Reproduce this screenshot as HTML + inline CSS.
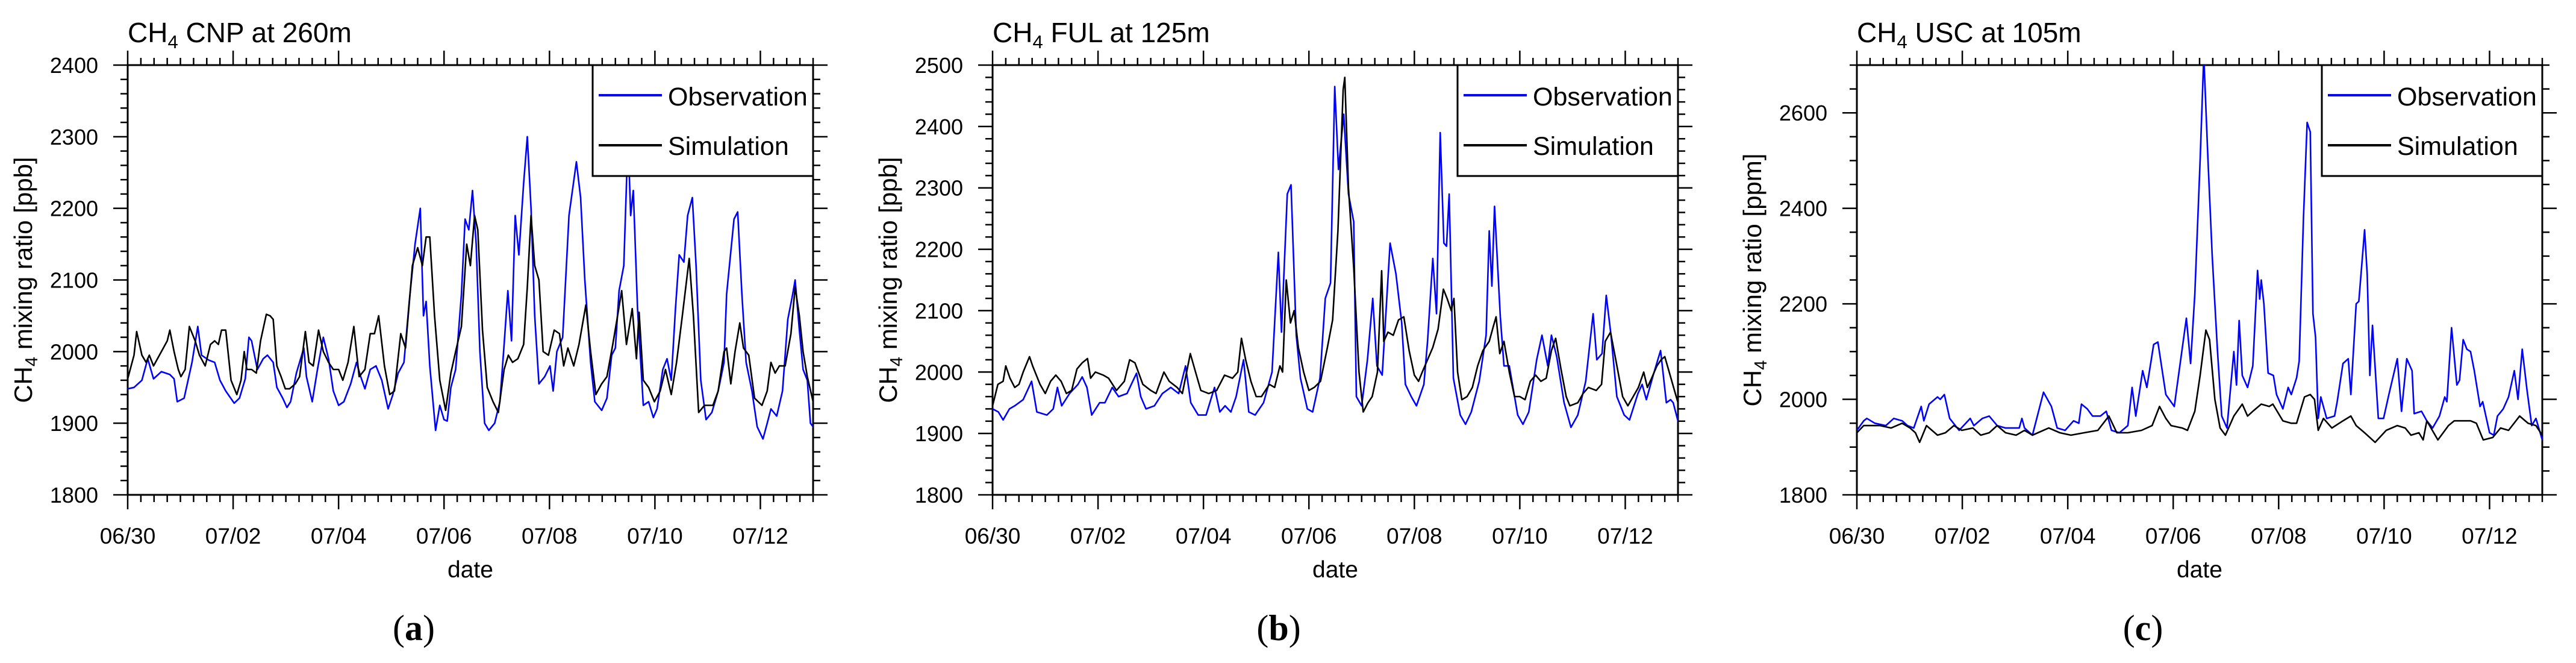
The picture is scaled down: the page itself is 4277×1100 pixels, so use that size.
<!DOCTYPE html>
<html><head><meta charset="utf-8"><style>
html,body{margin:0;padding:0;background:#fff;}
svg{display:block;font-family:"Liberation Sans",Arial,sans-serif;}
</style></head><body>
<svg id="fig" width="4277" height="1100" viewBox="0 0 4277 1100" xmlns="http://www.w3.org/2000/svg"></svg>
<script>
// ---------- DATA ----------
const dateTickLabels = ["06/30","07/02","07/04","07/06","07/08","07/10","07/12"];
const dateTickDays = [0,2,4,6,8,10,12];

const aTitle = ["CNP at 260m"];
const aYTicks = [1800,1900,2000,2100,2200,2300,2400];
const aObsDays = [0,0.12,0.27,0.38,0.49,0.64,0.8,0.88,0.94,1.07,1.22,1.33,1.4,1.54,1.65,1.75,1.86,2.02,2.12,2.23,2.3,2.35,2.46,2.57,2.65,2.76,2.83,2.94,3.02,3.09,3.2,3.34,3.39,3.5,3.6,3.71,3.81,3.9,4.0,4.1,4.23,4.34,4.42,4.5,4.6,4.71,4.82,4.94,5.03,5.13,5.24,5.34,5.45,5.55,5.61,5.66,5.73,5.84,5.92,6.0,6.06,6.13,6.22,6.33,6.4,6.47,6.54,6.61,6.68,6.77,6.85,6.96,7.06,7.14,7.21,7.28,7.35,7.42,7.51,7.58,7.65,7.72,7.8,7.91,8.01,8.07,8.14,8.25,8.37,8.51,8.59,8.67,8.78,8.86,8.99,9.09,9.18,9.25,9.32,9.41,9.49,9.54,9.59,9.67,9.78,9.88,9.97,10.04,10.15,10.23,10.31,10.39,10.46,10.55,10.62,10.71,10.78,10.87,10.97,11.08,11.2,11.31,11.36,11.5,11.57,11.65,11.73,11.84,11.94,12.05,12.13,12.2,12.31,12.42,12.52,12.6,12.66,12.74,12.81,12.89,12.95,13.0];
const aObsVals = [1948,1950,1960,1990,1962,1972,1968,1962,1930,1935,1985,2035,1995,1988,1985,1960,1945,1928,1935,1962,2020,2015,1975,1990,1995,1985,1950,1935,1922,1930,1970,2005,1965,1930,1975,2020,1990,1945,1925,1930,1955,1985,1965,1948,1975,1980,1960,1920,1940,1970,1985,2070,2150,2200,2050,2070,1980,1890,1925,1905,1903,1950,1975,2080,2185,2170,2225,2150,2000,1900,1890,1900,1930,2010,2085,2015,2190,2135,2235,2300,2200,2050,1955,1965,1980,1945,2000,2020,2190,2265,2215,2100,1985,1930,1918,1935,1995,2005,2085,2120,2300,2190,2225,2060,1925,1930,1908,1920,1975,1990,1960,2060,2135,2125,2190,2215,2120,1960,1905,1915,1945,1985,2080,2185,2195,2080,1985,1945,1895,1878,1900,1920,1910,1945,2045,2075,2100,2030,1975,1960,1900,1895];
const aSimDays = [0,0.12,0.17,0.27,0.35,0.41,0.49,0.64,0.75,0.8,0.88,0.96,1.01,1.09,1.17,1.28,1.36,1.47,1.57,1.65,1.72,1.78,1.86,1.96,2.07,2.15,2.21,2.26,2.35,2.44,2.52,2.63,2.7,2.76,2.83,2.91,2.99,3.07,3.18,3.26,3.37,3.44,3.52,3.62,3.71,3.81,3.9,4.0,4.08,4.18,4.29,4.39,4.5,4.6,4.68,4.76,4.87,4.97,5.06,5.18,5.27,5.4,5.5,5.59,5.66,5.73,5.82,5.92,6.03,6.13,6.22,6.33,6.43,6.5,6.58,6.64,6.73,6.82,6.93,7.03,7.14,7.22,7.3,7.4,7.51,7.58,7.65,7.72,7.8,7.88,7.98,8.09,8.19,8.27,8.35,8.46,8.56,8.69,8.78,8.88,8.99,9.09,9.2,9.28,9.37,9.46,9.57,9.65,9.7,9.78,9.88,9.99,10.1,10.2,10.31,10.41,10.52,10.65,10.73,10.83,10.94,11.1,11.2,11.31,11.36,11.44,11.52,11.61,11.68,11.78,11.89,12.03,12.13,12.2,12.28,12.36,12.47,12.58,12.66,12.74,12.81,12.89,13.0];
const aSimVals = [1962,1995,2028,1995,1985,1995,1980,2000,2015,2030,2000,1975,1965,1975,2035,2015,1995,1980,2010,2015,2010,2030,2030,1960,1940,1960,2000,1975,1975,1970,2015,2052,2050,2045,1980,1965,1948,1948,1955,1965,2028,1985,1980,2030,2000,1985,1975,1975,1960,1985,2035,1965,1975,2025,2025,2050,1980,1940,1945,2025,2005,2120,2145,2120,2160,2160,2050,1960,1918,1970,2000,2035,2150,2120,2190,2170,2030,1950,1930,1915,1975,1995,1985,1990,2010,2090,2190,2120,2100,2000,1995,2030,2025,1980,2005,1980,2010,2065,2000,1940,1955,1965,2010,2045,2085,2010,2060,1990,2055,1960,1950,1930,1945,1975,1940,1985,2050,2130,2050,1915,1925,1925,1945,2000,2005,1955,2000,2040,2005,1995,1935,1925,1945,1985,1970,1980,1980,2025,2090,2050,2000,1965,1930];

const bTitle = ["FUL at 125m"];
const bYTicks = [1800,1900,2000,2100,2200,2300,2400,2500];
const bObsDays = [0,0.11,0.2,0.32,0.42,0.58,0.74,0.84,1.03,1.15,1.23,1.31,1.46,1.62,1.7,1.79,1.88,2.03,2.13,2.27,2.39,2.55,2.73,2.81,2.91,3.07,3.22,3.38,3.53,3.66,3.76,3.9,4.05,4.21,4.31,4.41,4.52,4.62,4.76,4.86,4.98,5.14,5.3,5.42,5.48,5.59,5.66,5.76,5.84,5.97,6.07,6.21,6.31,6.41,6.49,6.56,6.66,6.75,6.85,6.9,7.0,7.11,7.21,7.29,7.39,7.54,7.65,7.76,7.83,7.94,8.04,8.18,8.25,8.35,8.42,8.49,8.56,8.61,8.66,8.74,8.87,8.97,9.08,9.23,9.36,9.42,9.47,9.52,9.63,9.7,9.8,9.96,10.06,10.17,10.32,10.42,10.53,10.6,10.7,10.84,10.97,11.1,11.25,11.39,11.46,11.56,11.64,11.73,11.84,11.98,12.08,12.24,12.32,12.4,12.53,12.67,12.78,12.86,12.91,13.0];
const bObsVals = [1940,1935,1922,1940,1945,1955,1985,1935,1930,1940,1975,1945,1965,1980,1992,1975,1930,1950,1950,1975,1960,1965,1998,1960,1940,1945,1965,1975,1965,2010,1950,1930,1930,1975,1935,1945,1935,1960,2020,1935,1930,1950,2000,2195,2065,2290,2305,2060,1990,1940,1935,1990,2120,2145,2465,2330,2420,2290,2245,1960,1945,2020,2120,2010,1995,2210,2160,2080,1980,1960,1945,1980,2050,2185,2095,2390,2210,2205,2290,1990,1930,1915,1935,1985,2060,2230,2140,2270,2090,2010,2010,1930,1915,1935,2020,2060,2010,2060,2025,1950,1910,1930,1985,2095,2020,2030,2125,2060,1960,1930,1922,1965,1980,1955,1995,2035,1950,1955,1950,1920];
const bSimDays = [0,0.1,0.2,0.25,0.33,0.42,0.5,0.58,0.7,0.76,0.9,1.0,1.1,1.2,1.3,1.4,1.5,1.6,1.7,1.8,1.86,1.95,2.1,2.2,2.35,2.5,2.6,2.7,2.85,3.0,3.1,3.25,3.35,3.5,3.6,3.75,3.85,3.95,4.1,4.25,4.4,4.55,4.65,4.72,4.8,4.9,5.0,5.1,5.25,5.35,5.45,5.5,5.57,5.65,5.72,5.8,5.9,6.0,6.1,6.22,6.35,6.45,6.55,6.65,6.68,6.75,6.85,6.95,7.03,7.12,7.2,7.3,7.38,7.42,7.5,7.6,7.7,7.8,7.9,8.0,8.08,8.15,8.25,8.35,8.45,8.55,8.62,8.7,8.75,8.82,8.9,9.0,9.1,9.2,9.3,9.42,9.5,9.55,9.62,9.7,9.8,9.9,10.0,10.1,10.2,10.3,10.4,10.5,10.6,10.68,10.78,10.88,10.95,11.1,11.2,11.3,11.45,11.55,11.62,11.72,11.82,11.95,12.05,12.15,12.25,12.35,12.42,12.5,12.6,12.68,12.75,12.85,12.95,13.0];
const bSimVals = [1945,1980,1985,2010,1990,1975,1980,2000,2025,2010,1980,1965,1985,1995,1985,1965,1970,2005,2015,2022,1990,2000,1995,1990,1970,1985,2020,2015,1980,1970,1965,2000,1985,1975,1965,2030,2000,1970,1965,1970,1995,1990,2000,2055,2020,1985,1960,1960,1980,1975,2010,2000,2150,2080,2100,2040,2000,1970,1975,1985,2040,2085,2230,2460,2480,2300,2170,2000,1935,1950,1960,2000,2165,2050,2065,2060,2085,2090,2035,1995,1985,2000,2020,2040,2070,2135,2120,2100,2120,2000,1955,1960,1975,2010,2035,2050,2075,2090,2030,2050,2000,1960,1960,1955,1985,1995,1985,1990,2035,2055,2005,1960,1945,1950,1965,1975,1970,1980,2050,2065,2020,1960,1945,1960,1975,2000,1975,1990,2010,2020,2025,1995,1965,1950];

const cTitle = ["USC at 105m"];
const cYTicks = [1800,2000,2200,2400,2600];
const cObsDays = [0,0.13,0.19,0.34,0.55,0.7,0.86,0.96,1.08,1.22,1.27,1.37,1.53,1.58,1.66,1.76,1.94,2.15,2.22,2.38,2.51,2.66,2.82,3.08,3.13,3.18,3.33,3.54,3.69,3.8,3.95,4.11,4.21,4.26,4.37,4.47,4.62,4.73,4.83,4.98,5.14,5.22,5.29,5.42,5.5,5.63,5.71,5.86,6.02,6.25,6.33,6.41,6.51,6.58,6.66,6.74,6.84,6.92,7.02,7.15,7.2,7.25,7.31,7.41,7.51,7.6,7.64,7.67,7.72,7.8,7.9,7.96,8.08,8.18,8.24,8.34,8.39,8.47,8.54,8.6,8.65,8.7,8.75,8.8,8.91,9.06,9.11,9.22,9.32,9.37,9.47,9.52,9.63,9.68,9.73,9.78,9.89,9.99,10.09,10.25,10.33,10.43,10.53,10.57,10.71,10.81,10.92,11.05,11.15,11.19,11.28,11.38,11.43,11.5,11.57,11.64,11.71,11.82,11.87,12.0,12.08,12.15,12.26,12.36,12.47,12.54,12.62,12.71,12.8,12.88,13.0];
const cObsVals = [1935,1955,1960,1950,1945,1960,1955,1945,1940,1985,1955,1990,2005,2000,2010,1960,1935,1960,1945,1960,1965,1945,1940,1940,1960,1940,1925,2015,1985,1940,1935,1955,1950,1990,1980,1965,1965,1975,1935,1930,1945,2025,1965,2060,2025,2115,2120,2010,1985,2170,2075,2220,2500,2720,2500,2300,2100,1965,1940,2100,2030,2165,2050,2025,2070,2270,2210,2250,2200,2055,2050,2010,1980,2025,2010,2045,2080,2380,2580,2560,2180,2130,1960,2005,1960,1965,1995,2075,2085,2010,2200,2205,2355,2260,2050,2155,1960,1960,2010,2085,1975,2085,2060,1970,1975,1955,1940,1965,2005,1995,2150,2030,2040,2125,2105,2100,2060,1985,1995,1930,1925,1965,1980,2005,2060,2000,2105,2020,1945,1960,1915];
const cSimDays = [0,0.13,0.44,0.65,0.86,1.01,1.11,1.19,1.32,1.53,1.68,1.84,1.99,2.2,2.35,2.51,2.66,2.82,3.02,3.18,3.33,3.64,3.85,4.06,4.31,4.57,4.78,4.93,5.14,5.4,5.6,5.74,5.86,5.96,6.17,6.27,6.41,6.51,6.62,6.69,6.79,6.89,6.99,7.15,7.31,7.41,7.51,7.67,7.82,7.89,8.08,8.24,8.34,8.49,8.6,8.68,8.75,8.85,9.01,9.22,9.37,9.47,9.63,9.83,10.04,10.25,10.4,10.51,10.66,10.74,10.81,11.02,11.22,11.33,11.48,11.64,11.75,11.88,12.06,12.21,12.36,12.57,12.73,12.88,13.0];
const cSimVals = [1930,1945,1945,1940,1950,1940,1930,1910,1945,1925,1930,1945,1935,1940,1925,1930,1945,1930,1925,1935,1925,1940,1930,1925,1930,1935,1965,1930,1930,1935,1945,1985,1960,1945,1940,1935,1975,2050,2145,2125,2000,1940,1925,1965,1990,1965,1975,1990,1985,1990,1955,1950,1950,2005,2010,2000,1935,1960,1940,1955,1965,1945,1930,1910,1935,1945,1940,1925,1930,1915,1955,1915,1945,1955,1955,1955,1950,1915,1920,1940,1935,1965,1950,1945,1925];

// ---------- DRAW ----------
const NS = "http://www.w3.org/2000/svg";
const svg = document.getElementById('fig');
function mk(tag, attrs, parent){
  const e = document.createElementNS(NS, tag);
  for (const k in attrs) e.setAttribute(k, attrs[k]);
  (parent||svg).appendChild(e);
  return e;
}
const TOP = 108, BOT = 821, PW = 1138, NDAYS = 13;

function panel(id, left, title, yTicks, yMin, yMax, yMinor, unit, obsD, obsV, simD, simV, letter){
  const g = mk('g', {});
  
  
  const R = left + PW;
  const xs = d => left + d / NDAYS * PW;
  const ys = v => BOT - (v - yMin) / (yMax - yMin) * (BOT - TOP);
  const ax = mk('g', {stroke:'#000','stroke-width':3}, g);
  
  
  mk('rect', {x:left,y:TOP,width:PW,height:BOT-TOP,fill:'none'}, ax);
  for (let i = 0; i <= NDAYS*4; i++){
    const x = xs(i/4); const major = (i % 8 === 0);
    const len = major ? 24 : 12;
    mk('line', {x1:x,x2:x,y1:BOT,y2:BOT+len,'stroke-width':2.5}, ax);
    mk('line', {x1:x,x2:x,y1:TOP,y2:TOP-len,'stroke-width':2.5}, ax);
  }
  for (let v = yMin; v <= yMax + 0.01; v += yMinor){
    const y = ys(v); const major = yTicks.indexOf(Math.round(v)) >= 0;
    const len = major ? 24 : 12;
    mk('line', {x1:left,x2:left-len,y1:y,y2:y,'stroke-width':2.5}, ax);
    mk('line', {x1:R,x2:R+len,y1:y,y2:y,'stroke-width':2.5}, ax);
  }
  yTicks.forEach(v => {
    const t = mk('text', {x:left-49,y:ys(v)+13,'font-size':36,'text-anchor':'end'}, g);
    t.textContent = v;
    
    
  });
  dateTickDays.forEach((d, i) => {
    const t = mk('text', {x:xs(d),y:902,'font-size':37,'text-anchor':'middle'}, g);
    t.textContent = dateTickLabels[i];
    
    
  });
  const xt = mk('text', {x:left+PW/2,y:958,'font-size':39,'text-anchor':'middle'}, g);
  xt.textContent = 'date';
  
  
  const cy = (TOP+BOT)/2, cx = left-174;
  const yt = mk('text', {x:cx,y:cy+15,'font-size':42,'text-anchor':'middle',transform:'rotate(-90 '+cx+' '+cy+')'}, g);
  
  
  yt.innerHTML = 'CH<tspan font-size="29" dy="9">4</tspan><tspan dy="-9"> mixing ratio ['+unit+']</tspan>';
  const tt = mk('text', {x:left,y:70,'font-size':46}, g);
  
  
  tt.innerHTML = 'CH<tspan font-size="31" dy="10">4</tspan><tspan dy="-10"> '+title[0]+'</tspan>';
  const cp = mk('clipPath', {id:'clip-'+id}, g);
  mk('rect', {x:left,y:TOP,width:PW,height:BOT-TOP}, cp);
  const line = (D, V, color, name) => {
    let d = '';
    D.forEach((dd, i) => { d += (i ? 'L' : 'M') + xs(dd).toFixed(1) + ',' + ys(V[i]).toFixed(1); });
    const p = mk('path', {d:d,fill:'none',stroke:color,'stroke-width':2.6,'stroke-linejoin':'round','clip-path':'url(#clip-'+id+')'}, g);
    
    
  };
  line(obsD, obsV, '#0000ff', 'observation-line');
  line(simD, simV, '#000000', 'simulation-line');
  const L = R - 366;
  const lg = mk('g', {}, g);
  
  
  mk('rect', {x:L,y:TOP,width:366,height:184,fill:'#fff',stroke:'#000','stroke-width':3}, lg);
  mk('line', {x1:L+10,x2:L+115,y1:158,y2:158,stroke:'#0000ff','stroke-width':4}, lg);
  mk('line', {x1:L+10,x2:L+115,y1:241,y2:241,stroke:'#000','stroke-width':4}, lg);
  const o = mk('text', {x:L+125,y:175,'font-size':43}, lg); o.textContent = 'Observation';
  
  
  const s = mk('text', {x:L+125,y:257,'font-size':43}, lg); s.textContent = 'Simulation';
  
  
  const lt = mk('text', {x:left+475,y:1062,'font-size':60,'text-anchor':'middle','font-family':'Liberation Serif, serif'}, g);
  lt.innerHTML = '(<tspan font-weight="bold">'+letter+'</tspan>)';
  
  
}
panel('a', 212, aTitle, aYTicks, 1800, 2400, 20, 'ppb', aObsDays, aObsVals, aSimDays, aSimVals, 'a');
panel('b', 1648, bTitle, bYTicks, 1800, 2500, 20, 'ppb', bObsDays, bObsVals, bSimDays, bSimVals, 'b');
panel('c', 3083, cTitle, cYTicks, 1800, 2700, 50, 'ppm', cObsDays, cObsVals, cSimDays, cSimVals, 'c');
</script>
</body></html>
